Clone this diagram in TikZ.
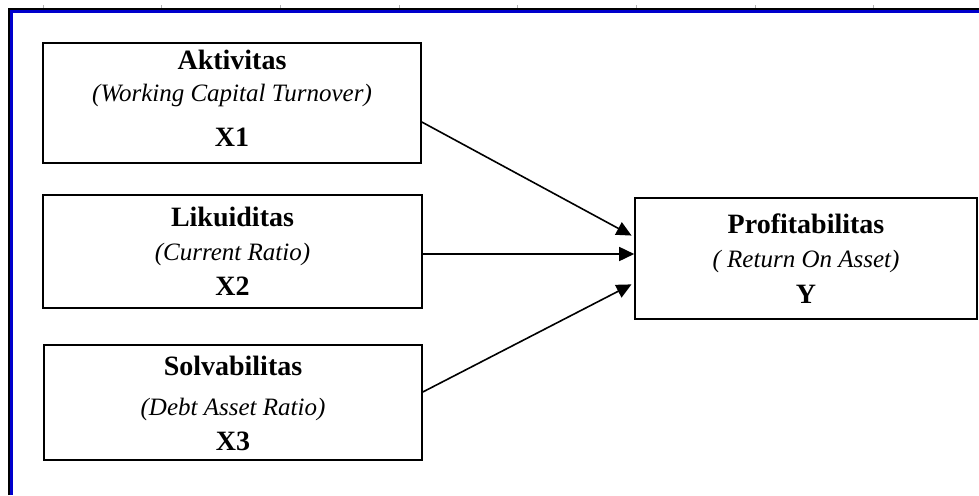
\documentclass[tikz,border=0pt]{standalone}
\usepackage{fontspec}
\setmainfont{Liberation Serif}
\usetikzlibrary{arrows.meta}

\begin{document}
\begin{tikzpicture}[x=1pt,y=-1pt,>={Triangle[length=15pt,width=14pt]},
        thick,var box/.style={rectangle,draw,line width=1.6pt,inner sep=0pt},
        title/.style={anchor=base,font=\fontsize{28}{30}\selectfont\bfseries},
        measure/.style={anchor=base,font=\fontsize{25}{27}\selectfont\itshape},
        symbol/.style={anchor=base,font=\fontsize{28}{30}\selectfont\bfseries}]
        \useasboundingbox (0,0) rectangle (979,495);
        % frame
        \draw[line width=2.5pt] (9,495) -- (9,9) -- (979,9);
        \draw[line width=2.5pt,blue!80!black] (11.5,495) -- (11.5,11.5) -- (979,11.5);
        \foreach \i in {0,...,7}
        \draw[gray!60,line width=1pt] (43+118.7*\i,5.5) -- (43+118.7*\i,8);
        % boxes
        \node[var box,minimum width=378pt,minimum height=120pt] (akt) at (232,103) {};
        \node[var box,minimum width=379pt,minimum height=113pt] (lik) at (232.5,251.5) {};
        \node[var box,minimum width=378pt,minimum height=115pt] (sol) at (233,402.5) {};
        \node[var box,minimum width=342pt,minimum height=121pt] (prof) at (806,258.5) {};
        % texts
        \node[title] (akt-t) at (232,70) {Aktivitas};
        \node[measure] (akt-m) at (232,101.5) {(Working Capital Turnover)};
        \node[symbol] (akt-x) at (232,146.5) {X1};
        \node[title] (lik-t) at (232.5,226.5) {Likuiditas};
        \node[measure] (lik-m) at (232.5,260) {(Current Ratio)};
        \node[symbol] (lik-x) at (232.5,295) {X2};
        \node[title] (sol-t) at (233,375) {Solvabilitas};
        \node[measure] (sol-m) at (233,415) {(Debt Asset Ratio)};
        \node[symbol] (sol-x) at (233,450) {X3};
        \node[title] (prof-t) at (806,233) {Profitabilitas};
        \node[measure] (prof-m) at (806,267) {( Return On Asset)};
        \node[symbol] (prof-y) at (806,303) {Y};
        % arrows
        \draw[->,line width=1.6pt,shorten >=3pt] ([yshift=-19pt]akt.east) -- ([yshift=21.5pt]prof.west);
        \draw[->,line width=1.6pt] ([yshift=-2.5pt]lik.east) -- ([yshift=4.5pt]prof.west);
        \draw[->,line width=1.6pt,shorten >=3pt] ([yshift=10.5pt]sol.east) -- ([yshift=-24.5pt]prof.west);
\end{tikzpicture}
\end{document}
